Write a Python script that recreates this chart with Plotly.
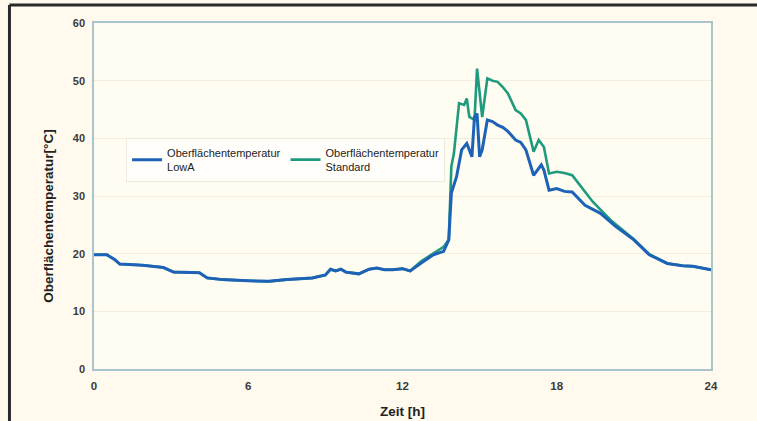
import plotly.graph_objects as go

# LowA series
hours_lowa = [0, 0.5, 0.8, 1.0, 1.9, 2.4, 2.7, 3.1, 4.1, 4.4, 5.0, 6.0, 6.8, 7.5, 8.5,
              9.0, 9.2, 9.4, 9.6, 9.8, 10.3, 10.7, 11.0, 11.3, 11.6, 12.0, 12.3, 12.7, 13.2, 13.6,
              13.8, 13.9, 14.1, 14.3, 14.5, 14.6, 14.7, 14.8, 14.9, 15.0, 15.1, 15.3, 15.5, 15.7, 15.9, 16.1, 16.4,
              16.6, 16.8, 17.1, 17.4, 17.5, 17.7, 18.0, 18.3, 18.6, 19.1, 19.7, 20.3, 21.0, 21.6, 22.3, 22.9, 23.3, 24.0]
temp_lowa = [19.8, 19.8, 19.0, 18.2, 18.0, 17.7, 17.6, 16.8, 16.7, 15.8, 15.5, 15.3, 15.2, 15.5, 15.8,
             16.3, 17.3, 17.0, 17.3, 16.8, 16.5, 17.3, 17.5, 17.2, 17.2, 17.4, 17.0, 18.3, 19.8, 20.4,
             22.4, 30.5, 33.3, 38.0, 39.1, 38.0, 36.8, 43.7, 44.3, 36.8, 38.0, 43.2, 42.9, 42.3, 41.9, 41.2, 39.7,
             39.3, 38.0, 33.6, 35.4, 34.5, 31.0, 31.3, 30.8, 30.7, 28.4, 27.0, 24.7, 22.4, 19.8, 18.3, 17.9, 17.8, 17.2]

# Standard series
hours_std = [0, 0.5, 0.8, 1.0, 1.9, 2.4, 2.7, 3.1, 4.1, 4.4, 5.0, 6.0, 6.8, 7.5, 8.5,
             9.0, 9.2, 9.4, 9.6, 9.8, 10.3, 10.7, 11.0, 11.3, 11.6, 12.0, 12.3,
             12.7, 13.2, 13.6, 13.8, 13.9, 14.0, 14.2, 14.4, 14.5, 14.6, 14.8, 14.9, 15.1, 15.3, 15.5, 15.7,
             15.9, 16.1, 16.4, 16.6, 16.8, 17.1, 17.3, 17.5, 17.7, 18.0, 18.3, 18.6, 18.8, 19.4, 20.1, 21.0, 21.6, 22.3,
             22.9, 23.3, 24.0]
temp_std = [19.8, 19.8, 19.0, 18.2, 18.0, 17.7, 17.6, 16.8, 16.7, 15.8, 15.5, 15.3, 15.2, 15.5, 15.8,
            16.3, 17.3, 17.0, 17.3, 16.8, 16.5, 17.3, 17.5, 17.2, 17.2, 17.4, 17.0,
            18.6, 20.0, 21.2, 22.4, 35.1, 37.4, 46.1, 45.8, 46.9, 43.7, 43.2, 52.1, 43.7, 50.4, 50.0, 49.8,
            48.9, 47.8, 44.9, 44.3, 43.2, 37.7, 39.7, 38.5, 33.9, 34.2, 34.0, 33.6, 32.5, 29.0, 25.8, 22.5, 19.9, 18.3,
            17.9, 17.8, 17.2]

x_ticks = [0, 6, 12, 18, 24]
y_ticks = [0, 10, 20, 30, 40, 50, 60]

FONT = "Liberation Sans, Arial, sans-serif"

fig = go.Figure()
fig.add_trace(go.Scatter(x=hours_std, y=temp_std, mode="lines",
                         name="Oberflächentemperatur<br>Standard", legendrank=2,
                         line=dict(color="#1f9a7c", width=2.6)))
fig.add_trace(go.Scatter(x=hours_lowa, y=temp_lowa, mode="lines",
                         name="Oberflächentemperatur<br>LowA", legendrank=1,
                         line=dict(color="#1e62b8", width=3)))

axis_color = "#a9c4ca"
fig.update_layout(
    width=757, height=421,
    margin=dict(l=94, r=46, t=23, b=52),
    paper_bgcolor="#fffaed",
    plot_bgcolor="#fffcf1",
    font=dict(family=FONT, color="#333333"),
    showlegend=True,
    legend=dict(orientation="h", x=0.052, y=0.668, xanchor="left", yanchor="top",
                bgcolor="#fffefb", bordercolor="#eeeae0", borderwidth=1,
                font=dict(size=11, color="#222222"), itemwidth=30,
                tracegroupgap=0),
    xaxis=dict(range=[0, 24], tickvals=x_ticks, ticktext=[str(v) for v in x_ticks],
               showgrid=False, zeroline=False, showline=True, linecolor=axis_color,
               linewidth=1.5, mirror=True, ticks="", ticklabelstandoff=5, automargin=False,
               tickfont=dict(size=11.5, color="#3a3a3a", weight="bold"),
               title=dict(text="Zeit [h]", font=dict(size=13.5, weight="bold", color="#222222"),
                          standoff=16)),
    yaxis=dict(range=[0, 60], tickvals=y_ticks, ticktext=[str(v) for v in y_ticks],
               showgrid=True, gridcolor="#f1ecdc", gridwidth=1, zeroline=False,
               showline=True, linecolor=axis_color, linewidth=1.5, mirror=True, ticks="",
               ticklabelstandoff=5, automargin=False,
               tickfont=dict(size=11, color="#3a3a3a", weight="bold")),
    annotations=[
        dict(text="Oberflächentemperatur[°C]", textangle=-90, showarrow=False,
             xref="paper", yref="paper", x=-0.0729, y=0.44, xanchor="center", yanchor="middle",
             font=dict(family=FONT, size=13.5, weight="bold", color="#222222")),
    ],
    shapes=[
        dict(type="line", xref="paper", yref="paper", x0=-0.137, x1=1.2, y0=1.052, y1=1.052,
             line=dict(color="#2a2a2a", width=3)),
        dict(type="line", xref="paper", yref="paper", x0=-0.137, x1=-0.137, y0=-0.3, y1=1.052,
             line=dict(color="#2a2a2a", width=3)),
    ],
)

fig.write_html("out.html")
